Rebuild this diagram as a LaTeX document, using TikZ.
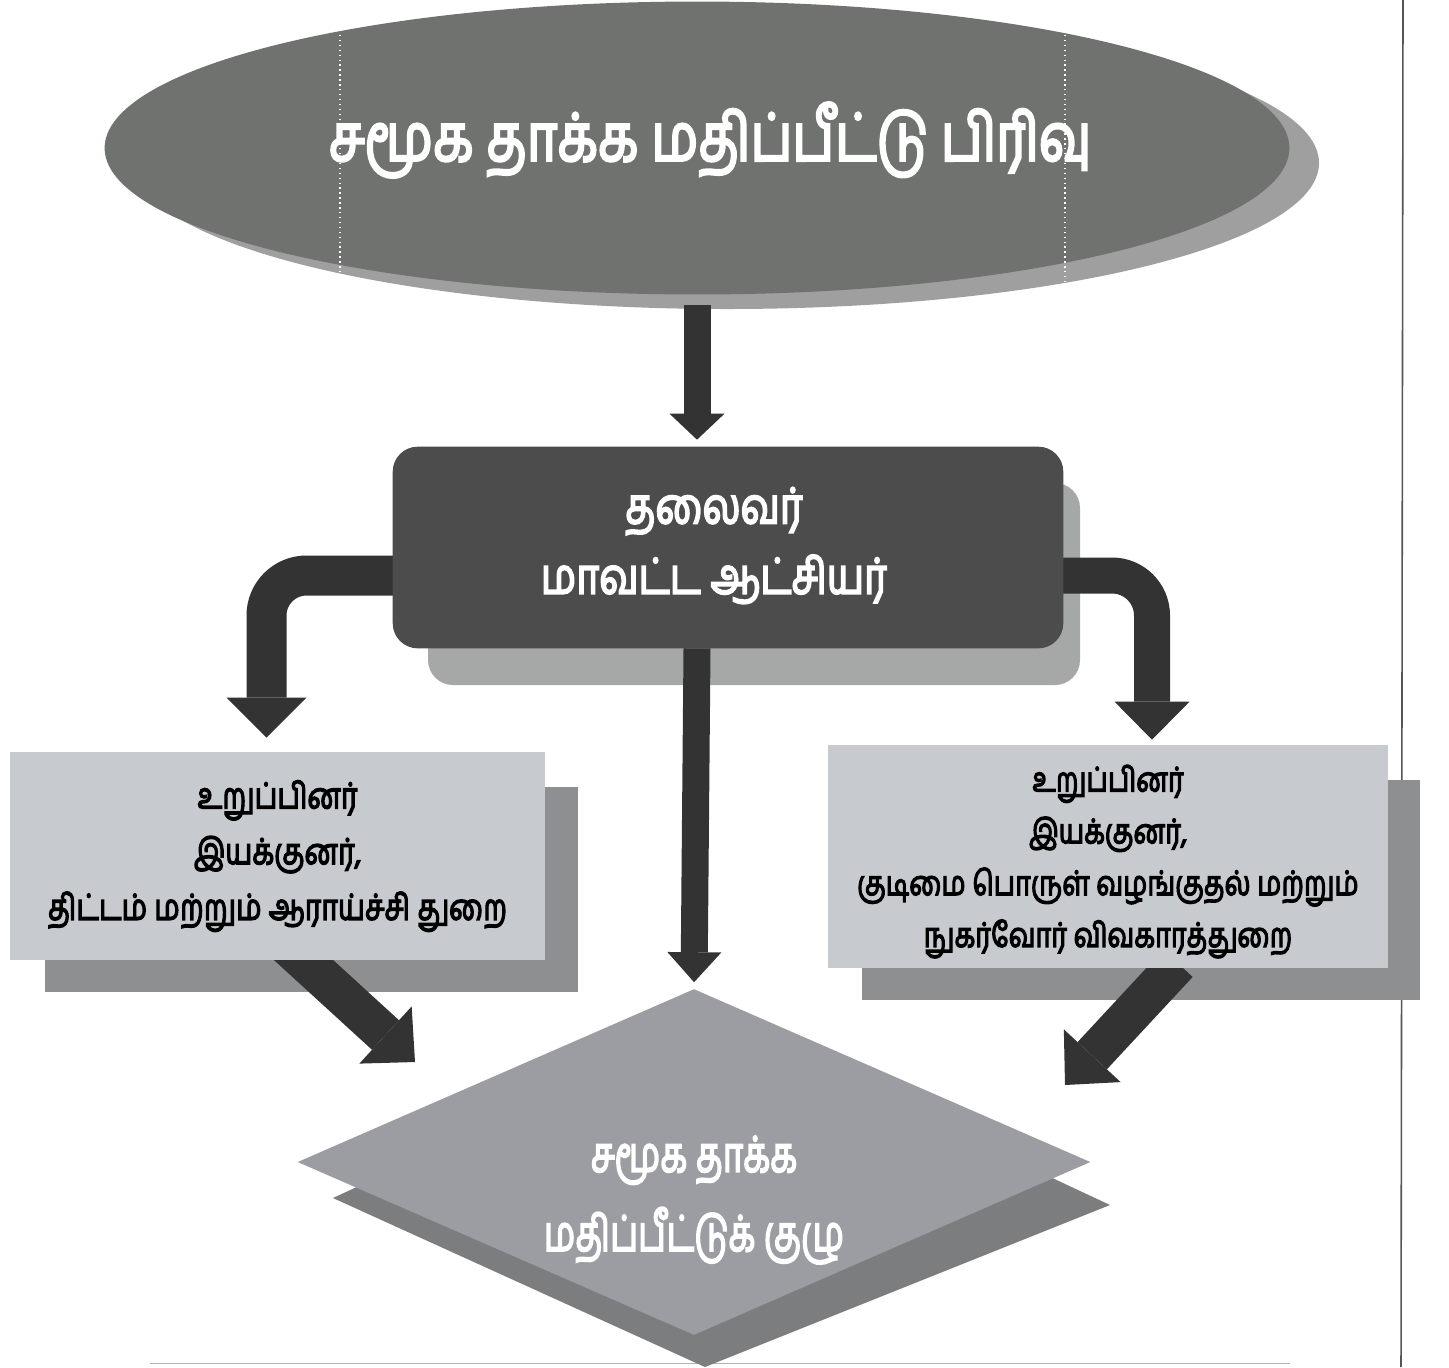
\documentclass[tikz,border=0pt]{standalone}
\usepackage{fontspec}
\usepackage{graphicx}
\newfontfamily\tamil[Script=Tamil,FakeBold=4]{Hind Madurai}
\newcommand\tamline[1]{\scalebox{1}[1.25]{#1}}
\usetikzlibrary{shapes.geometric,arrows.meta,calc}
\definecolor{ellfill}{HTML}{70726F}
\definecolor{ellshadow}{HTML}{9E9F9E}
\definecolor{darkbox}{HTML}{4B4C4B}
\definecolor{darkshadow}{HTML}{A6A7A7}
\definecolor{arrowgray}{HTML}{333333}
\definecolor{lightbox}{HTML}{C7CACE}
\definecolor{lightshadow}{HTML}{8E8F91}
\definecolor{diafill}{HTML}{9C9DA2}
\definecolor{diashadow}{HTML}{7B7D7F}
\definecolor{framegray}{HTML}{555555}
\begin{document}
\begin{tikzpicture}[x=0.02cm,y=-0.02cm,
  blockarrow/.style={draw=arrowgray,line cap=butt,line join=miter,line width=#1},
]
\useasboundingbox (0,0) rectangle (1449,1367);
\fill[white] (0,0) rectangle (1449,1367);

% page frame lines
\draw[framegray,line width=0.9pt] (1403,0) -- (1401,1367);
\draw[black!30,line width=0.6pt] (150,1363) -- (1290,1363);

% ---- title ellipse ----
\fill[ellshadow] (727,163) ellipse [x radius=592, y radius=146];
\node[ellipse,fill=ellfill,inner sep=0pt,minimum width=23.7cm,minimum height=5.86cm] (title) at (697,148) {};
\node[text=white,font=\tamil\fontsize{30}{36}\selectfont,inner sep=0pt] (titletext) at (710,140)
      {\tamline{சமூக தாக்க மதிப்பீட்டு பிரிவு}};
\draw[white,dotted,line width=0.8pt] (340,30) -- (340,290);
\draw[white,dotted,line width=0.8pt] (1065,30) -- (1065,290);

% ---- shadows ----
\fill[darkshadow,rounded corners=0.5cm] (428,483) rectangle (1080,685);
\fill[lightshadow] (45,787) rectangle (578,992);
\fill[lightshadow] (862,780) rectangle (1420,1000);
\fill[diashadow] (715,1020) -- (1110,1205) -- (705,1367) -- (333,1198) -- cycle;

% ---- node positions ----
\coordinate (chairpos) at (728,547.5);
\coordinate (leftpos) at (277.5,856);
\coordinate (rightpos) at (1108,856.5);
\coordinate (diapos) at (694,1162);
\path (chairpos) node[rectangle,minimum width=13.4cm,minimum height=4.02cm,inner sep=0pt] (chair) {};
\path (leftpos) node[rectangle,minimum width=10.7cm,minimum height=4.16cm,inner sep=0pt] (leftbox) {};
\path (rightpos) node[rectangle,minimum width=11.2cm,minimum height=4.46cm,inner sep=0pt] (rightbox) {};
\path (diapos) node[diamond,inner sep=0pt,minimum width=15.84cm,minimum height=6.9cm] (committee) {};

% ---- connectors (under the boxes they leave) ----
\draw[blockarrow=0.54cm,-{Triangle[width=1.1cm,length=0.52cm,line width=0pt]},shorten >=0.14cm]
  ($(title.south)+(0,10)$) -- (chair.north -| title.south);
\draw[blockarrow=0.8cm,rounded corners=0.8cm,-{Triangle[width=1.6cm,length=0.8cm,line width=0pt]}]
  ($(chair.west)+(15,28)$) -| ($(leftbox.north)+(-11,-14)$);
\draw[blockarrow=0.72cm,rounded corners=0.8cm,-{Triangle[width=1.5cm,length=0.76cm,line width=0pt]}]
  ($(chair.east)+(-15,28)$) -| ($(rightbox.north)+(44,-5)$);
\draw[blockarrow=0.54cm,-{Triangle[width=1.08cm,length=0.6cm,line width=0pt]},shorten >=0.14cm]
  (chair.south -| title.south) -- (committee.north);
\draw[blockarrow=0.8cm,-{Triangle[width=1.55cm,length=0.8cm,line width=0pt]}]
  ($(leftbox.south)+(10,-15)$) -- ($(committee.center)+(-279,-100)$);
\draw[blockarrow=0.8cm,-{Triangle[width=1.55cm,length=0.8cm,line width=0pt]}]
  ($(rightbox.south)+(70,-5)$) -- ($(committee.center)+(371,-77)$);

% ---- visible boxes ----
\fill[darkbox,rounded corners=0.5cm] (chair.north west) rectangle (chair.south east);
\fill[lightbox] (leftbox.north west) rectangle (leftbox.south east);
\fill[lightbox] (rightbox.north west) rectangle (rightbox.south east);
\fill[diafill] (committee.north) -- (committee.east) -- (committee.south) -- (committee.west) -- cycle;

% ---- texts ----
\node[text=white,align=center,font=\tamil\fontsize{22.5}{40}\selectfont] at ($(chair.center)+(-14,-2)$)
  {\tamline{தலைவர்}\\\tamline{மாவட்ட ஆட்சியர்}};
\node[align=center,font=\tamil\fontsize{16.3}{31.7}\selectfont] at ($(leftbox.center)+(0,0)$)
  {\tamline{உறுப்பினர்}\\\tamline{இயக்குனர்,}\\\tamline{திட்டம் மற்றும் ஆராய்ச்சி துறை}};
\node[align=center,font=\tamil\fontsize{15.4}{29.5}\selectfont] at ($(rightbox.center)+(0,5)$)
  {\tamline{உறுப்பினர்}\\\tamline{இயக்குனர்,}\\\tamline{குடிமை பொருள் வழங்குதல் மற்றும்}\\\tamline{நுகர்வோர் விவகாரத்துறை}};
\node[text=white,align=center,font=\tamil\fontsize{20}{45}\selectfont] at ($(committee.center)+(0,38)$)
  {\scalebox{1}[1.4]{சமூக தாக்க}\\\scalebox{1}[1.4]{மதிப்பீட்டுக் குழு}};

\end{tikzpicture}
\end{document}
